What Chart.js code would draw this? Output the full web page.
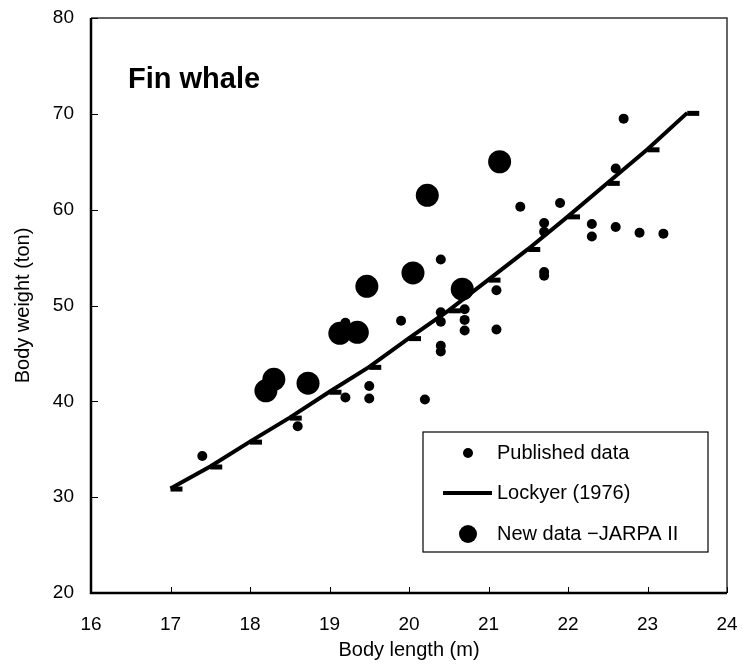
<!DOCTYPE html>
<html>
<head>
<meta charset="utf-8">
<title>Fin whale - body length vs body weight</title>
<script src="https://cdn.jsdelivr.net/npm/chart.js@4"></script>
<style>
    body { margin: 0; background: #fff; }
    canvas { display: block; }
</style>
</head>
<body>
<canvas id="whaleChart" width="744" height="672"></canvas>
<script>
// Published data (small dots)
const publishedLength = [17.4, 18.6, 19.2, 19.2, 19.5, 19.5, 19.9, 20.2, 20.4, 20.4, 20.4, 20.4, 20.4,
    20.7, 20.7, 20.7, 21.1, 21.1, 21.4, 21.7, 21.7, 21.7, 21.7, 21.9, 22.3, 22.3, 22.6, 22.6, 22.7, 22.9, 23.2];
const publishedWeight = [34.3, 37.4, 40.4, 48.2, 41.6, 40.3, 48.4, 40.2, 54.8, 49.3, 48.3, 45.8, 45.2,
    49.6, 48.5, 47.4, 51.6, 47.5, 60.3, 58.6, 57.7, 53.5, 53.1, 60.7, 58.5, 57.2, 64.3, 58.2, 69.5, 57.6, 57.5];

// Lockyer (1976) curve
const lockyerLength = [17, 17.5, 18, 18.5, 19, 19.5, 20, 20.5, 21, 21.5, 22, 22.5, 23, 23.5];
const lockyerWeight = [30.9, 33.2, 35.8, 38.3, 41.0, 43.6, 46.6, 49.5, 52.7, 55.9, 59.3, 62.8, 66.3, 70.1];

// New data - JARPA II (big dots)
const jarpaLength = [18.2, 18.3, 18.73, 19.13, 19.35, 19.47, 20.05, 20.23, 20.67, 21.14];
const jarpaWeight = [41.1, 42.3, 41.9, 47.1, 47.2, 52.0, 53.4, 61.5, 51.7, 65.0];

const xTicks = [16, 17, 18, 19, 20, 21, 22, 23, 24];
const yTicks = [20, 30, 40, 50, 60, 70, 80];

const legendLabels = ['Published data', 'Lockyer (1976)', 'New data \u2212JARPA II'];

const fontFamily = '"Liberation Sans", Arial, sans-serif';

const toPoints = (xs, ys) => xs.map((x, i) => ({ x: x, y: ys[i] }));

// dash marker sitting to the right of each Lockyer point
const dashMarker = document.createElement('canvas');
dashMarker.width = 28;
dashMarker.height = 8;
(function() {
    const c = dashMarker.getContext('2d');
    c.fillStyle = '#000';
    c.fillRect(14, 2, 12, 5);
})();

// no extra room for overhanging tick labels, layout.padding decides
function noLabelPadding(scale) {
    scale.paddingTop = 0;
    scale.paddingBottom = 0;
    scale.paddingLeft = 0;
    scale.paddingRight = 0;
}

const framePlugin = {
    id: 'frame',
    afterDraw(chart) {
        const ctx = chart.ctx;
        const area = chart.chartArea;
        const xs = chart.scales.x;
        const ys = chart.scales.y;
        ctx.save();

        // plot frame
        ctx.strokeStyle = '#333';
        ctx.lineWidth = 1.5;
        ctx.beginPath();
        ctx.moveTo(area.left, area.top);
        ctx.lineTo(area.right, area.top);
        ctx.lineTo(area.right, area.bottom);
        ctx.stroke();
        ctx.strokeStyle = '#000';
        ctx.lineWidth = 2.5;
        ctx.beginPath();
        ctx.moveTo(area.left, area.top);
        ctx.lineTo(area.left, area.bottom);
        ctx.lineTo(area.right, area.bottom);
        ctx.stroke();

        // inward tick marks
        ctx.lineWidth = 1;
        ctx.strokeStyle = '#000';
        ctx.beginPath();
        xTicks.forEach(v => {
            const px = Math.round(xs.getPixelForValue(v)) + 0.5;
            ctx.moveTo(px, area.bottom);
            ctx.lineTo(px, area.bottom - 6);
        });
        yTicks.forEach(v => {
            const py = Math.round(ys.getPixelForValue(v)) + 0.5;
            ctx.moveTo(area.left, py);
            ctx.lineTo(area.left + 7, py);
        });
        ctx.stroke();

        // species label
        ctx.fillStyle = '#000';
        ctx.font = 'bold 29px ' + fontFamily;
        ctx.textAlign = 'left';
        ctx.textBaseline = 'alphabetic';
        ctx.fillText('Fin whale', area.left + 37, 88);

        // legend box
        const bw = 285, bh = 120;
        const bx = area.right - 19 - bw;
        const by = area.bottom - 41 - bh;
        ctx.fillStyle = '#fff';
        ctx.fillRect(bx, by, bw, bh);
        ctx.strokeStyle = '#000';
        ctx.lineWidth = 1.2;
        ctx.strokeRect(bx, by, bw, bh);

        const rowY = [by + 21, by + 61, by + 102];
        const markX = bx + 45;
        ctx.fillStyle = '#000';
        ctx.beginPath();
        ctx.arc(markX, rowY[0], 5, 0, Math.PI * 2);
        ctx.fill();
        ctx.lineWidth = 4;
        ctx.beginPath();
        ctx.moveTo(bx + 20, rowY[1]);
        ctx.lineTo(bx + 69, rowY[1]);
        ctx.stroke();
        ctx.beginPath();
        ctx.arc(markX, rowY[2], 9, 0, Math.PI * 2);
        ctx.fill();

        ctx.font = '20px ' + fontFamily;
        ctx.textBaseline = 'middle';
        legendLabels.forEach((t, i) => ctx.fillText(t, bx + 74, rowY[i]));
        ctx.restore();
    }
};

const ctx = document.getElementById('whaleChart').getContext('2d');
new Chart(ctx, {
    type: 'scatter',
    data: {
        datasets: [{
            label: legendLabels[0],
            data: toPoints(publishedLength, publishedWeight),
            backgroundColor: '#000',
            borderWidth: 0,
            pointRadius: 5,
            pointHoverRadius: 5
        }, {
            label: legendLabels[1],
            type: 'line',
            data: toPoints(lockyerLength, lockyerWeight),
            borderColor: '#000',
            borderWidth: 4,
            fill: false,
            tension: 0,
            pointStyle: dashMarker,
            pointRadius: 6
        }, {
            label: legendLabels[2],
            data: toPoints(jarpaLength, jarpaWeight),
            backgroundColor: '#000',
            borderWidth: 0,
            pointRadius: 11.5,
            pointHoverRadius: 11.5
        }]
    },
    options: {
        responsive: false,
        animation: false,
        layout: {
            padding: { top: 18, right: 17, left: 0, bottom: 0 }
        },
        plugins: {
            legend: { display: false },
            tooltip: { enabled: false }
        },
        scales: {
            x: {
                type: 'linear',
                min: 16,
                max: 24,
                afterBuildTicks: scale => { scale.ticks = xTicks.map(v => ({ value: v })); },
                afterFit: scale => { scale.height = 79; noLabelPadding(scale); },
                grid: { display: false, drawTicks: false },
                border: { display: false },
                ticks: {
                    color: '#000',
                    padding: 20,
                    font: { family: fontFamily, size: 19 }
                },
                title: {
                    display: true,
                    text: 'Body length (m)',
                    color: '#000',
                    padding: { top: 4, bottom: 10 },
                    font: { family: fontFamily, size: 20 }
                }
            },
            y: {
                type: 'linear',
                min: 20,
                max: 80,
                afterBuildTicks: scale => { scale.ticks = yTicks.map(v => ({ value: v })); },
                afterFit: scale => { scale.width = 91; noLabelPadding(scale); },
                grid: { display: false, drawTicks: false },
                border: { display: false },
                ticks: {
                    color: '#000',
                    padding: 17,
                    font: { family: fontFamily, size: 19 }
                },
                title: {
                    display: true,
                    text: 'Body weight (ton)',
                    color: '#000',
                    padding: { top: 11, bottom: 0 },
                    font: { family: fontFamily, size: 20 }
                }
            }
        }
    },
    plugins: [framePlugin]
});
</script>
</body>
</html>
